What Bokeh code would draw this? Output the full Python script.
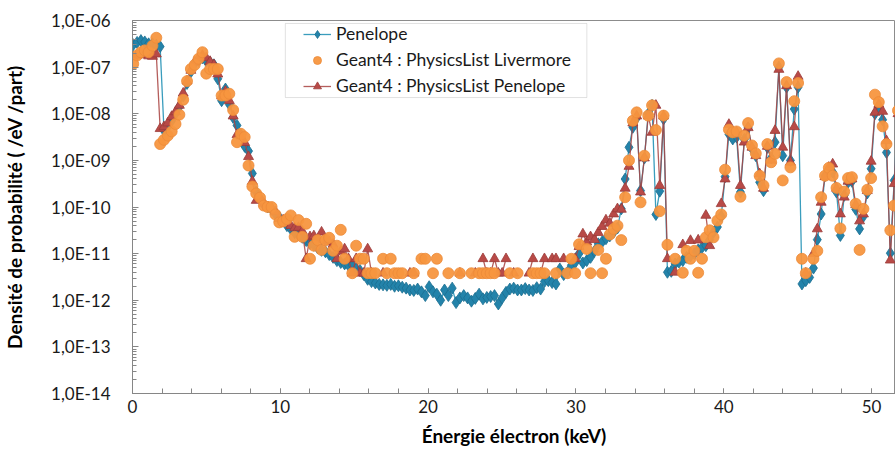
import numpy as np
from bokeh.plotting import figure
from bokeh.models import (Range1d, FixedTicker, CustomJSTickFormatter, Legend,
                          LegendItem, ColumnDataSource, BoxAnnotation)
from bokeh.embed import file_html
from bokeh.resources import INLINE

# ---------------- data (log10 of probability density) -------------
energy_kev = [round(0.05 + 0.26 * i, 2) for i in range(200)]   # energy bins (keV)

penelope_log10 = [
    -6.52, -6.47, -6.43, -6.46, -6.50, -6.50, -6.53, -6.56, -8.36, -8.28,
    -8.15, -8.00, -7.85, -7.62, -7.35, -7.10, -6.92, -6.86, -6.80, -6.87,
    -6.90, -6.95, -7.25, -7.72, -7.47, -7.80, -8.08, -8.25, -8.45, -8.70,
    -8.80, -9.28, -9.68, -9.82, -9.95, -10.00, -10.05, -10.15, -10.22, -10.30,
    -10.40, -10.47, -10.55, -10.60, -10.65, -10.72, -10.78, -10.82, -10.88, -10.93,
    -10.96, -11.02, -11.08, -11.15, -11.19, -11.22, -11.25, -11.25, -11.33, -11.36,
    -11.45, -11.55, -11.60, -11.63, -11.66, -11.67, -11.68, -11.66, -11.70, -11.69,
    -11.72, -11.74, -11.78, -11.79, -11.76, -11.82, -11.90, -11.71, -11.82, -11.87,
    -12.00, -11.78, -11.90, -11.74, -12.05, -11.95, -11.90, -11.95, -12.02, -11.96,
    -11.87, -11.97, -11.94, -11.92, -11.90, -12.08, -11.95, -11.83, -11.76, -11.74,
    -11.78, -11.78, -11.75, -11.78, -11.79, -11.73, -11.76, -11.60, -11.58, -11.62,
    -11.65, -11.33, -11.45, -11.40, -11.25, -11.19, -11.00, -11.20, -11.15, -11.08,
    -10.95, -10.79, -10.75, -10.68, -10.62, -10.54, -10.45, -10.04, -9.40, -8.72,
    -8.29, -8.09, -9.65, -8.95, -8.00, -7.82, -10.16, -9.66, -8.11, -11.40,
    -11.38, -11.22, -11.18, -11.15, -11.08, -11.05, -11.00, -10.92, -10.87, -10.83,
    -10.70, -10.54, -10.43, -10.20, -9.35, -8.44, -8.54, -8.50, -9.68, -8.55,
    -8.30, -8.75, -8.90, -9.47, -9.65, -8.72, -8.95, -8.61, -7.00, -8.90,
    -7.43, -9.00, -7.90, -7.43, -11.65, -11.58, -11.51, -11.31, -10.70, -10.15,
    -9.33, -9.20, -9.25, -9.68, -10.61, -9.75, -9.47, -9.45, -10.05, -10.47,
    -10.20, -9.70, -9.18, -8.00, -7.85, -8.13, -8.83, -10.99, -9.43, -8.00,
]

livermore_log10 = [
    -6.93, -6.75, -6.68, -6.64, -6.68, -6.54, -6.37, -8.65, -8.56, -8.47,
    -8.38, -8.22, -8.02, -7.70, -7.30, -7.04, -6.95, -6.82, -6.68, -7.14,
    -7.04, -7.04, -7.04, -7.61, -7.61, -7.57, -7.92, -8.61, -8.43, -8.50,
    -9.11, -9.56, -9.71, -9.80, -9.97, -10.00, -10.00, -10.16, -10.33, -10.31,
    -10.26, -10.18, -10.64, -10.28, -10.64, -10.36, -11.11, -10.83, -10.71, -10.92,
    -10.71, -10.66, -10.94, -10.83, -10.49, -11.11, None, -11.42, -10.83, -11.11,
    -11.11, -11.42, -11.42, -11.42, None, -11.11, -11.42, -11.11, -11.42, -11.42,
    -11.42, None, None, -11.42, None, -11.11, -11.11, None, -11.42, -11.11,
    None, None, -11.42, None, None, -11.42, None, None, -11.42, None,
    -11.42, -11.42, -11.42, -11.42, -11.42, None, None, None, -11.42, None,
    -11.42, None, None, None, -11.42, -11.42, -11.42, -11.42, None, None,
    -11.42, None, None, -11.42, -11.11, -11.42, -10.80, None, -10.90, -11.42,
    None, -10.92, -11.42, -11.11, -10.59, -10.47, -10.40, -10.71, -9.79, -9.00,
    -8.15, -7.97, -9.90, -8.90, -8.04, -7.82, -8.35, -10.09, -8.04, -10.81,
    None, -11.11, None, -11.41, -10.94, -11.11, -10.94, -11.41, -11.11, -10.65,
    -10.50, -10.65, -10.29, -10.16, -9.20, -8.34, -8.40, -8.38, -9.78, -8.47,
    -8.20, -8.68, -8.85, -9.33, -9.54, -8.65, -9.04, -8.86, -6.92, -9.43,
    -7.32, -9.15, -7.73, -7.34, -11.11, -11.42, None, -11.11, -10.94, -9.79,
    -9.33, -9.16, -9.33, -9.59, -10.46, -9.67, -9.38, -9.36, -9.93, -10.92,
    -10.04, -9.63, -9.38, -7.59, -7.75, -8.27, -8.65, -10.50, -9.97, -7.93,
]

g4_penelope_log10 = [
    -6.78, -6.75, -6.73, -6.72, -6.76, -6.77, -6.72, -8.32, -8.28, -8.20,
    -8.06, -7.96, -7.82, -7.56, -7.30, -7.07, -6.89, -6.80, -6.75, -6.80,
    -6.88, -6.95, -7.15, -7.62, -7.52, -7.72, -8.05, -8.45, -8.48, -8.62,
    -8.92, -9.45, -9.86, -9.80, -9.92, -10.00, -10.02, -10.10, -10.25, -10.28,
    -10.35, -10.40, -10.45, -10.44, -10.52, -11.11, -10.64, -10.62, -10.70, -10.54,
    -10.72, -10.75, -10.80, -11.11, -10.95, -10.90, -11.11, -11.42, -11.11, -11.42,
    -11.42, -10.90, -11.42, None, None, -11.42, None, None, None, None,
    None, None, -11.42, -11.42, None, None, None, None, None, None,
    None, None, None, None, None, -11.42, None, None, None, -11.42,
    None, -11.11, -11.42, -11.42, -11.11, -11.42, -11.42, -11.11, None, -11.42,
    None, None, None, -11.42, -11.11, None, -11.42, -11.11, None, -11.11,
    -11.11, None, -11.11, None, None, -11.11, -10.85, -10.58, -10.75, -10.64,
    -10.70, -10.55, -10.42, -10.28, -10.35, -10.15, -10.04, -10.05, -9.60, -9.13,
    -8.20, -8.05, -9.68, -8.95, -8.05, -8.40, -7.82, -9.54, -8.05, -11.11,
    None, -11.40, None, -10.81, None, -10.72, None, -10.71, None, -10.18,
    -10.83, None, None, -9.93, -9.40, -8.23, -8.40, -8.40, -9.54, -8.61,
    -8.30, -8.72, -8.90, -9.29, -9.60, -8.70, -9.00, -8.36, -7.05, -8.72,
    -7.40, -9.04, -8.28, -7.20, None, -11.42, None, -11.00, -10.47, -9.90,
    -9.35, -9.15, -9.08, -9.60, -10.15, -9.79, -9.45, -9.40, -9.95, -10.30,
    -10.15, -9.65, -9.02, -7.97, -7.80, -7.95, -8.58, -11.14, -9.50, -8.00,
]

series_names = ["Penelope", "Geant4 : PhysicsList Livermore", "Geant4 : PhysicsList Penelope"]
y_decades = list(range(-14, -5))


def to_density(lst):
    return [np.nan if v is None else 10.0 ** v for v in lst]


src = ColumnDataSource(dict(
    x=energy_kev,
    pen=to_density(penelope_log10),
    liv=to_density(livermore_log10),
    g4p=to_density(g4_penelope_log10),
))

FONT = "Lato"

p = figure(width=895, height=453, y_axis_type="log",
           x_range=Range1d(0, 51.62), y_range=Range1d(1e-14, 1e-6),
           output_backend="svg", toolbar_location=None,
           min_border_left=131, min_border_right=0, min_border_top=20, min_border_bottom=60)
p.xgrid.visible = False
p.ygrid.visible = False
p.outline_line_color = "#8c8c8c"
p.background_fill_color = "white"
p.border_fill_color = "white"

# ---- axes ----
p.xaxis.ticker = FixedTicker(ticks=[0, 10, 20, 30, 40, 50], minor_ticks=list(range(0, 52, 2)))
p.yaxis.ticker = FixedTicker(ticks=[10.0 ** k for k in y_decades],
                             minor_ticks=[m * 10.0 ** k for k in y_decades[:-1] for m in range(2, 10)])
p.yaxis.formatter = CustomJSTickFormatter(code="""
    const e = Math.round(-Math.log10(tick));
    return '1,0E-' + (e < 10 ? '0' + e : '' + e);
""")
for ax in (p.xaxis[0], p.yaxis[0]):
    ax.axis_line_color = "#868686"
    ax.major_tick_line_color = "#868686"
    ax.minor_tick_line_color = "#868686"
    ax.major_tick_out = 0
    ax.minor_tick_out = 0
    ax.major_label_text_font = FONT
    ax.major_label_text_font_size = "17px"
    ax.major_label_text_color = "#1a1a1a"
    ax.axis_label_text_font = FONT
    ax.axis_label_text_font_size = "19px"
    ax.axis_label_text_font_style = "bold"
    ax.axis_label_text_color = "#000000"
p.xaxis.major_tick_in = 5
p.xaxis.minor_tick_in = 5
p.yaxis.major_tick_in = 6
p.yaxis.minor_tick_in = 4
p.xaxis.major_label_standoff = 6
p.yaxis.major_label_standoff = 22
p.xaxis.axis_label = "Énergie électron (keV)"
p.yaxis.axis_label = "Densité de probabilité ( /eV /part)"
p.xaxis.axis_label_standoff = 8
p.yaxis.axis_label_standoff = 22

# ---- series ----
pen_line = p.line("x", "pen", source=src, line_color="#3A9DBD", line_width=1.3)
pen_mark = p.scatter("x", "pen", source=src, marker="diamond", size=12,
                     fill_color="#2383AA", line_color="#1C6F90", line_width=0.8)
g4p_line = p.line("x", "g4p", source=src, line_color="#A8423F", line_width=1.3, line_alpha=0.85)
g4p_mark = p.scatter("x", "g4p", source=src, marker="triangle", size=10,
                     fill_color="#B84A47", line_color="#9C3B39", line_width=0.8)
liv_mark = p.scatter("x", "liv", source=src, marker="circle", size=11,
                     fill_color="#F7963F", line_color="#EC8A38", line_width=0.8, fill_alpha=0.95)

# ---- legend ----
legend_box = BoxAnnotation(left=10.34, right=30.74, top=10 ** -6.064, bottom=10 ** -7.652,
                           fill_color="white", fill_alpha=1.0,
                           line_color="#9a9a9a", line_width=1, level="annotation")
p.add_layout(legend_box)
legend = Legend(items=[
    LegendItem(label=series_names[0], renderers=[pen_line, pen_mark]),
    LegendItem(label=series_names[1], renderers=[liv_mark]),
    LegendItem(label=series_names[2], renderers=[g4p_line, g4p_mark]),
], location=(171, 297), padding=0, margin=0, spacing=5,
    glyph_width=28, glyph_height=20, label_height=20, label_standoff=5,
    label_text_font=FONT, label_text_font_size="17.5px", label_text_color="#1a1a1a",
    border_line_color=None, background_fill_alpha=0.0)
p.add_layout(legend)

open("out.html", "w").write(file_html(p, INLINE))
